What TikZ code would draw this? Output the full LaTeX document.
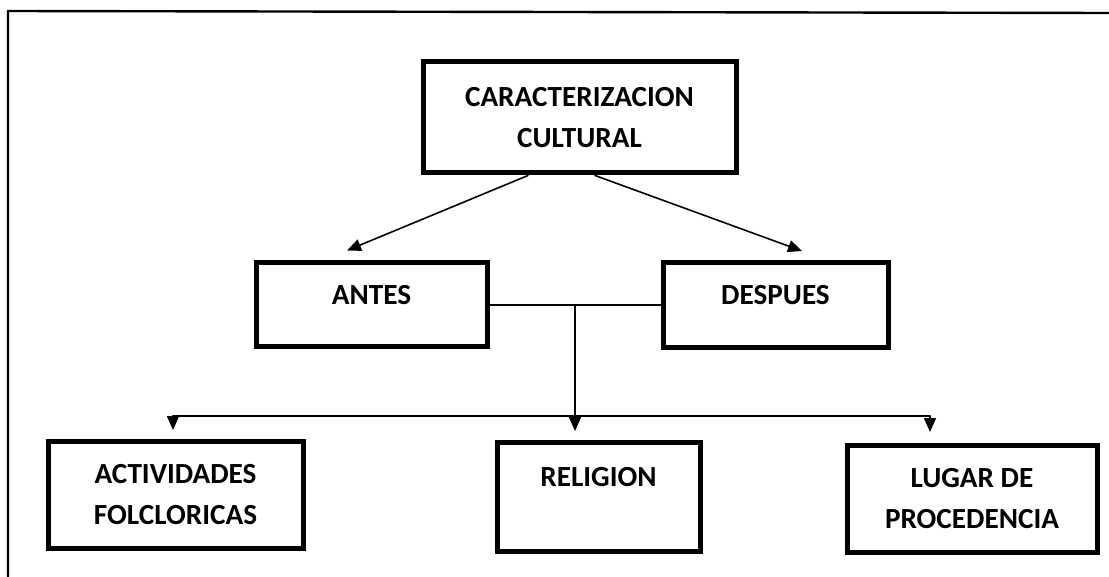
\documentclass[tikz,border=0pt]{standalone}
\usepackage{fontspec}
\setmainfont{Carlito}
\usetikzlibrary{arrows.meta}
\begin{document}
\begin{tikzpicture}[x=0.5pt, y=-0.5pt, >={Stealth[length=7pt,width=6pt,inset=0pt]}, line cap=round,
		caja/.style={draw, line width=2.5pt, align=center, inner sep=0pt, font=\bfseries\fontsize{14.6}{20.5}\selectfont},
		linea/.style={line width=0.8pt}]
			\useasboundingbox (0,0) rectangle (1109,577);
			\draw [line width=1.2pt] (1109,13)--(8,11)--(8,577);
			\node [caja, minimum width=156.5pt, minimum height=55.5pt] (cult) at (579.5,117.5) {CARACTERIZACION\\CULTURAL};
			\node [caja, minimum width=115.5pt, minimum height=42pt, text depth=10pt] (antes) at (371.5,305) {ANTES};
			\node [caja, minimum width=112.5pt, minimum height=42.5pt, text depth=10pt] (desp) at (775.5,305) {DESPUES};
			\node [caja, minimum width=127.5pt, minimum height=53.5pt] (activ) at (175.5,494.5) {ACTIVIDADES\\FOLCLORICAS};
			\node [caja, minimum width=101.5pt, minimum height=54.5pt, text depth=19.5pt] (relig) at (598.5,496.5) {RELIGION};
			\node [caja, minimum width=125pt, minimum height=53.5pt] (lugar) at (972,498.5) {LUGAR DE\\PROCEDENCIA};
			\path (575,305) coordinate (j)
				(173,416) coordinate (hl)
				(930,416) coordinate (hr)
				(173,430) coordinate (tl)
				(575,431) coordinate (tm)
				(930,432) coordinate (tr);
			\draw [linea, ->] ([shift={(-51.5,0)}]cult.south)--([shift={(-24.5,-10)}]antes.north);
			\draw [linea, ->] ([shift={(15.5,0)}]cult.south)--([shift={(26.5,-9)}]desp.north);
			\draw [linea] (antes.east)--(desp.west) (hl)--(hr);
			\foreach \a/\b in {j/tm,hl/tl,hr/tr}{
				\draw [linea, ->] (\a)--(\b);
			}
		\end{tikzpicture}
\end{document}
